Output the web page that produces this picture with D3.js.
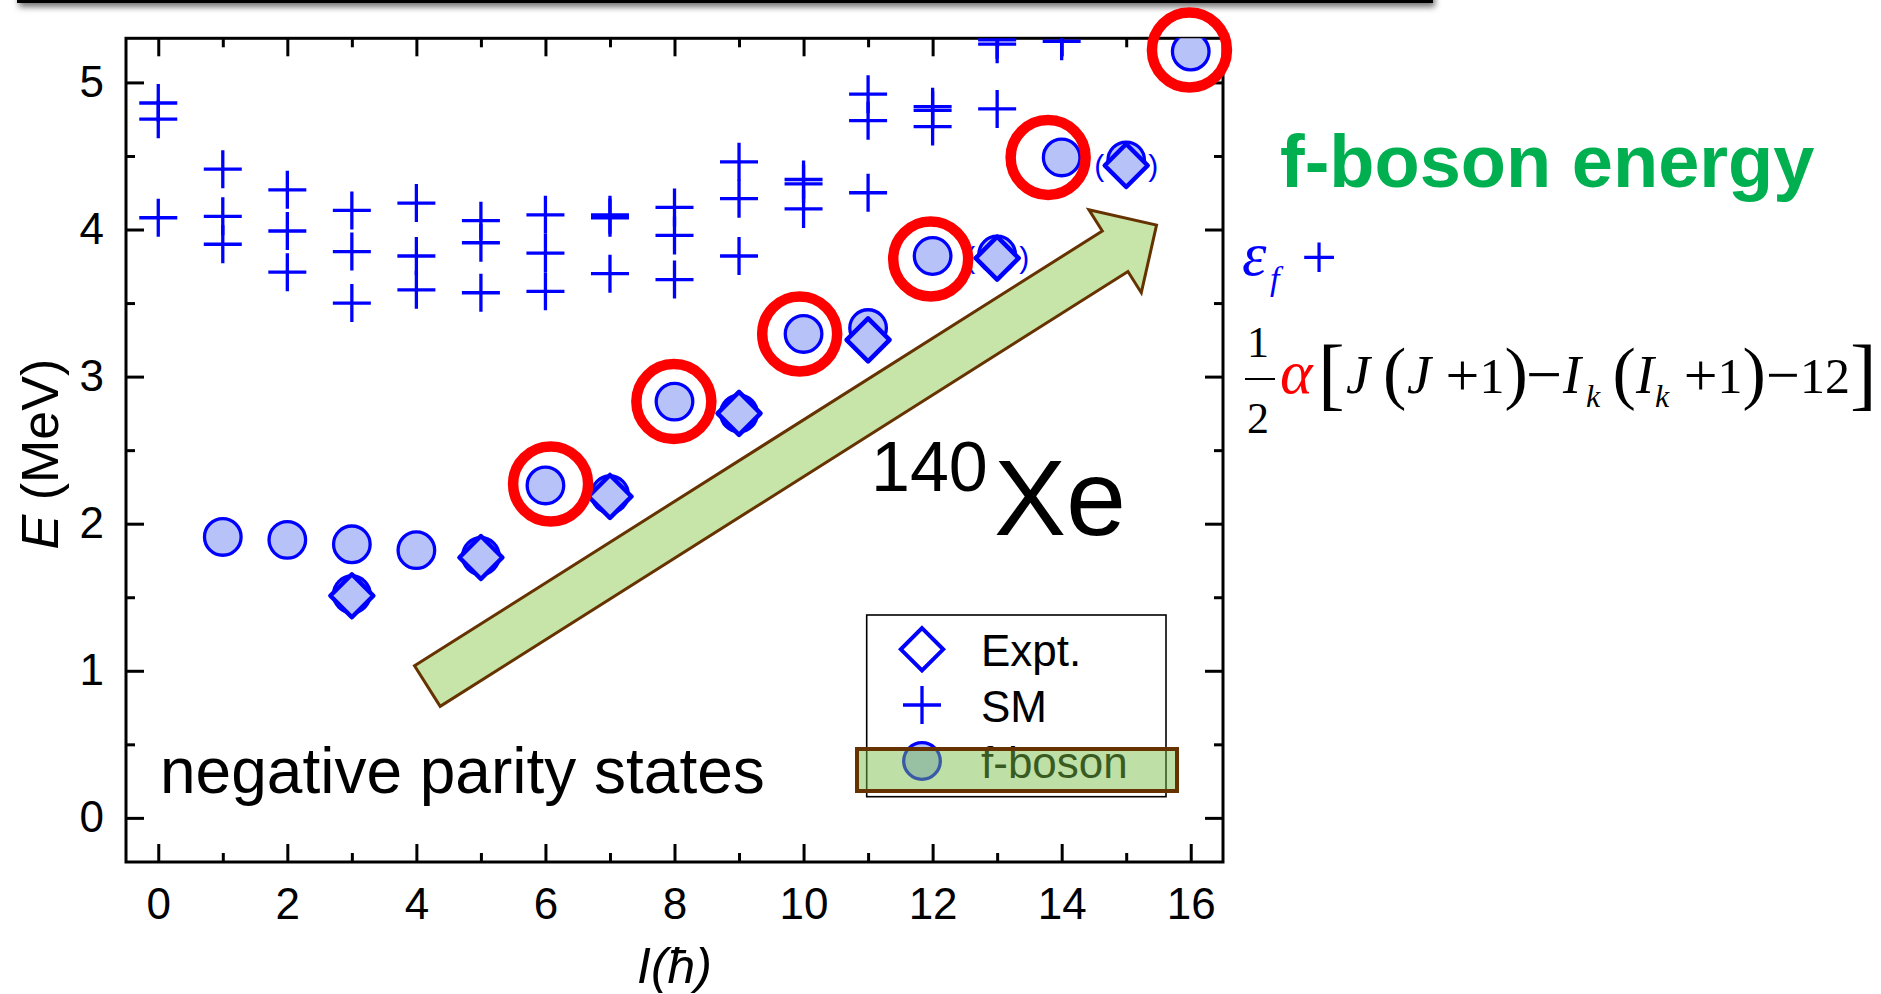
<!DOCTYPE html>
<html>
<head>
<meta charset="utf-8">
<script src="https://cdn.jsdelivr.net/npm/d3@7"></script>
<style>
  html, body { margin: 0; padding: 0; background: #fff; }
  svg { display: block; }
</style>
</head>
<body>
<svg id="chart" width="1881" height="994"></svg>
<script>
// ---- data: 140Xe negative parity states, E in MeV vs spin I ----
const smI = [0,0,0, 1,1,1, 2,2,2, 3,3,3, 4,4,4, 5,5,5, 6,6,6, 7,7,7, 8,8,8, 9,9,9, 10,10,10, 11,11,11, 12,12,12, 13,13,13, 14];
const smE = [4.86,4.75,4.08, 4.41,4.09,3.90, 4.27,3.99,3.71, 4.13,3.85,3.50, 4.18,3.82,3.59, 4.06,3.91,3.57, 4.10,3.84,3.58, 4.10,4.08,3.70, 4.15,3.96,3.66, 4.46,4.21,3.82, 4.34,4.31,4.14, 4.92,4.74,4.25, 4.835,4.81,4.70, 5.29,5.26,4.82, 5.28];

const fbI = [1, 2, 3, 4, 3, 5, 6, 7, 8, 9, 10, 11, 12, 13, 14, 15, 16];
const fbE = [1.91, 1.89, 1.86, 1.82, 1.52, 1.78, 2.26, 2.20, 2.83, 2.75, 3.29, 3.33, 3.82, 3.83, 4.49, 4.47, 5.21];

const exI = [3, 5, 7, 9, 11, 13, 15];
const exE = [1.51, 1.77, 2.185, 2.75, 3.25, 3.805, 4.435];
const exTentative = [false, false, false, false, false, true, true];

// highlighted states (red rings)
const ringI = [6.08, 7.99, 9.94, 11.97, 13.79, 15.98];
const ringE = [2.27, 2.83, 3.29, 3.80, 4.49, 5.22];

// trend arrow, from tail to tip (I, E)
const arrowFrom = [4.17, 0.896];
const arrowTo = [15.47, 4.03];

const xMajor = [0, 2, 4, 6, 8, 10, 12, 14, 16];
const xMinor = [1, 3, 5, 7, 9, 11, 13, 15];
const yMajor = [0, 1, 2, 3, 4, 5];
const yMinor = [0.5, 1.5, 2.5, 3.5, 4.5];

const legendItems = ["Expt.", "SM", "f-boson"];

// ---- layout ----
const svg = d3.select("#chart");
const L = 126, R = 1223, T = 38.3, B = 862;
const x = d3.scaleLinear().domain([-0.5, 16.5]).range([L, R]);
const y = d3.scaleLinear().domain([-0.3, 5.3]).range([B, T]);

const BLUE = "#0000ff", LIGHT = "#b7c2f8", RED = "#ff0000";
const SANS = "'Liberation Sans', Arial, sans-serif";
const SERIF = "'Liberation Serif', 'Times New Roman', serif";

// ---- slide title bar edge with shadow ----
const defs = svg.append("defs");
const sh = defs.append("filter").attr("id", "shadow").attr("x", "-5%").attr("y", "-100%").attr("width", "110%").attr("height", "400%");
sh.append("feDropShadow").attr("dx", 2).attr("dy", 4).attr("stdDeviation", 3.2).attr("flood-color", "#000").attr("flood-opacity", 0.55);
svg.append("rect").attr("x", 17).attr("y", -20).attr("width", 1416).attr("height", 23)
  .attr("fill", "#000").attr("filter", "url(#shadow)");

defs.append("clipPath").attr("id", "plotclip")
  .append("rect").attr("x", L).attr("y", T).attr("width", R - L).attr("height", B - T);

// ---- axes (ticks inward, mirrored on top/right) ----
function styleAxis(g) {
  g.select(".domain").remove();
  g.selectAll(".tick line").attr("stroke", "#000").attr("stroke-width", 3);
  g.selectAll(".tick text").attr("font-family", SANS).attr("font-size", 44).attr("fill", "#000");
}
const MAJ = 18, MIN = 9;
svg.append("g").attr("transform", `translate(0,${B})`)
  .call(d3.axisBottom(x).tickValues(xMajor).tickSizeInner(-MAJ).tickSizeOuter(0).tickPadding(26).tickFormat(d3.format("d")))
  .call(styleAxis);
svg.append("g").attr("transform", `translate(0,${B})`)
  .call(d3.axisBottom(x).tickValues(xMinor).tickSizeInner(-MIN).tickSizeOuter(0).tickFormat(""))
  .call(styleAxis);
svg.append("g").attr("transform", `translate(0,${T})`)
  .call(d3.axisTop(x).tickValues(xMajor).tickSizeInner(-MAJ).tickSizeOuter(0).tickFormat(""))
  .call(styleAxis);
svg.append("g").attr("transform", `translate(0,${T})`)
  .call(d3.axisTop(x).tickValues(xMinor).tickSizeInner(-MIN).tickSizeOuter(0).tickFormat(""))
  .call(styleAxis);
svg.append("g").attr("transform", `translate(${L},0)`)
  .call(d3.axisLeft(y).tickValues(yMajor).tickSizeInner(-MAJ).tickSizeOuter(0).tickPadding(22).tickFormat(d3.format("d")))
  .call(styleAxis);
svg.append("g").attr("transform", `translate(${L},0)`)
  .call(d3.axisLeft(y).tickValues(yMinor).tickSizeInner(-MIN).tickSizeOuter(0).tickFormat(""))
  .call(styleAxis);
svg.append("g").attr("transform", `translate(${R},0)`)
  .call(d3.axisRight(y).tickValues(yMajor).tickSizeInner(-MAJ).tickSizeOuter(0).tickFormat(""))
  .call(styleAxis);
svg.append("g").attr("transform", `translate(${R},0)`)
  .call(d3.axisRight(y).tickValues(yMinor).tickSizeInner(-MIN).tickSizeOuter(0).tickFormat(""))
  .call(styleAxis);

svg.append("rect").attr("x", L).attr("y", T).attr("width", R - L).attr("height", B - T)
  .attr("fill", "none").attr("stroke", "#000").attr("stroke-width", 3);

// axis titles
const yt = svg.append("text").attr("transform", `translate(58,${(T + B) / 2 + 4}) rotate(-90)`)
  .attr("text-anchor", "middle").attr("font-family", SANS).attr("font-size", 52).attr("fill", "#000");
yt.append("tspan").attr("font-style", "italic").text("E");
yt.append("tspan").text(" (MeV)");

svg.append("text").attr("x", (L + R) / 2).attr("y", 983)
  .attr("text-anchor", "middle").attr("font-family", SANS).attr("font-size", 50)
  .attr("font-style", "italic").attr("fill", "#000").text("I(ħ)");

// ---- trend arrow ----
(function () {
  const p0 = [x(arrowFrom[0]), y(arrowFrom[1])], p1 = [x(arrowTo[0]), y(arrowTo[1])];
  const dx = p1[0] - p0[0], dy = p1[1] - p0[1], len = Math.hypot(dx, dy);
  const u = [dx / len, dy / len], n = [-u[1], u[0]];
  const sw = 24, hw = 49, hl = 49;
  const b = [p1[0] - u[0] * hl, p1[1] - u[1] * hl];
  const pt = (p, k) => [p[0] + n[0] * k, p[1] + n[1] * k];
  const poly = [pt(p0, -sw), pt(b, -sw), pt(b, -hw), p1, pt(b, hw), pt(b, sw), pt(p0, sw)];
  svg.append("polygon").attr("points", poly.map(p => p.join(",")).join(" "))
    .attr("fill", "#c7e5a8").attr("stroke", "#663300").attr("stroke-width", 3).attr("stroke-linejoin", "miter");
})();

// ---- data markers ----
const plot = svg.append("g").attr("clip-path", "url(#plotclip)");
const cross = "M-19,0H19M0,-19V19";
const diamond = r => `M0,${-r}L${r},0L0,${r}L${-r},0Z`;

plot.selectAll("path.sm").data(smI.map((d, i) => [d, smE[i]])).join("path")
  .attr("class", "sm").attr("d", cross)
  .attr("transform", d => `translate(${x(d[0])},${y(d[1])})`)
  .attr("stroke", BLUE).attr("stroke-width", 3.3).attr("fill", "none");

plot.selectAll("circle.fb").data(fbI.map((d, i) => [d, fbE[i]])).join("circle")
  .attr("class", "fb").attr("cx", d => x(d[0])).attr("cy", d => y(d[1])).attr("r", 18.3)
  .attr("fill", LIGHT).attr("stroke", BLUE).attr("stroke-width", 3.3);

plot.selectAll("path.ex").data(exI.map((d, i) => [d, exE[i]])).join("path")
  .attr("class", "ex").attr("d", diamond(21.5))
  .attr("transform", d => `translate(${x(d[0])},${y(d[1])})`)
  .attr("fill", LIGHT).attr("stroke", BLUE).attr("stroke-width", 4.5).attr("stroke-linejoin", "round");

// tentative levels in parentheses
exI.forEach((d, i) => {
  if (!exTentative[i]) return;
  [["(", -27], [")", 27]].forEach(([ch, off]) => {
    plot.append("text").attr("x", x(d) + off).attr("y", y(exE[i]) + 10)
      .attr("text-anchor", "middle").attr("font-family", SANS).attr("font-size", 30)
      .attr("fill", BLUE).text(ch);
  });
});

// red rings
svg.selectAll("circle.ring").data(ringI.map((d, i) => [d, ringE[i]])).join("circle")
  .attr("class", "ring").attr("cx", d => x(d[0])).attr("cy", d => y(d[1])).attr("r", 37.5)
  .attr("fill", "none").attr("stroke", RED).attr("stroke-width", 10.5);

// ---- in-plot labels ----
svg.append("text").attr("x", 160).attr("y", 793).attr("font-family", SANS).attr("font-size", 64)
  .attr("fill", "#000").text("negative parity states");

svg.append("text").attr("x", 871).attr("y", 491).attr("font-family", SANS).attr("font-size", 70)
  .attr("fill", "#000").text("140");
svg.append("text").attr("x", 994).attr("y", 535).attr("font-family", SANS).attr("font-size", 108)
  .attr("fill", "#000").text("Xe");

// ---- legend ----
const lg = svg.append("g");
lg.append("rect").attr("x", 866.7).attr("y", 615).attr("width", 299.3).attr("height", 181.7)
  .attr("fill", "#fff").attr("stroke", "#000").attr("stroke-width", 1.6);
const rowY = [649.3, 705, 761];
lg.append("path").attr("d", diamond(21.2)).attr("transform", `translate(922,${rowY[0]})`)
  .attr("fill", "#fff").attr("stroke", BLUE).attr("stroke-width", 4);
lg.append("path").attr("d", cross).attr("transform", `translate(922,${rowY[1]})`)
  .attr("stroke", BLUE).attr("stroke-width", 3.3).attr("fill", "none");
lg.append("circle").attr("cx", 922).attr("cy", rowY[2]).attr("r", 18.3)
  .attr("fill", LIGHT).attr("stroke", BLUE).attr("stroke-width", 3.3);
legendItems.forEach((t, i) => {
  lg.append("text").attr("x", 981).attr("y", rowY[i] + 16.5).attr("font-family", SANS)
    .attr("font-size", 44).attr("fill", "#000").text(t);
});
// green highlight over the f-boson entry
svg.append("rect").attr("x", 857).attr("y", 749).attr("width", 320).attr("height", 42)
  .attr("fill", "rgb(120,190,70)").attr("fill-opacity", 0.48)
  .attr("stroke", "#663300").attr("stroke-width", 4);

// ---- f-boson energy formula ----
svg.append("text").attr("x", 1280).attr("y", 187).attr("font-family", SANS).attr("font-size", 74)
  .attr("font-weight", "bold").attr("fill", "#00b050").text("f-boson energy");

// each formula line is one text element built from positioned pieces
function formula(pieces) {
  const t = svg.append("text").attr("font-family", SERIF);
  pieces.forEach(p => {
    const s = t.append("tspan").attr("x", p.x).attr("y", p.y).attr("font-size", p.s)
      .attr("fill", p.c || "#000").text(p.t);
    if (p.i) s.attr("font-style", "italic");
  });
  return t;
}
// operators are set a little larger so they match the surrounding glyph widths
const OPY = s => 380 + 0.25 * s;
formula([
  { t: "ε", x: 1242, y: 275, s: 62, i: true, c: BLUE },
  { t: "f", x: 1270, y: 290, s: 34, i: true, c: BLUE },
  { t: "+", x: 1301, y: 263 + 0.25 * 64, s: 64, c: BLUE }
]);
formula([
  { t: "1", x: 1247, y: 357, s: 44 },
  { t: "2", x: 1247, y: 433, s: 44 },
  { t: "α", x: 1280, y: 393, s: 62, i: true, c: RED },
  { t: "[", x: 1318, y: 400, s: 80 },
  { t: "J", x: 1346, y: 393, s: 54, i: true },
  { t: "(", x: 1383, y: 396, s: 70 },
  { t: "J", x: 1407, y: 393, s: 54, i: true },
  { t: "+", x: 1445.6, y: OPY(60), s: 60 },
  { t: "1", x: 1479.5, y: 393, s: 50 },
  { t: ")", x: 1504.5, y: 396, s: 70 },
  { t: "−", x: 1526, y: OPY(64), s: 64 },
  { t: "I", x: 1563, y: 393, s: 54, i: true },
  { t: "k", x: 1586, y: 407, s: 32, i: true },
  { t: "(", x: 1612.5, y: 396, s: 70 },
  { t: "I", x: 1636, y: 393, s: 54, i: true },
  { t: "k", x: 1655, y: 407, s: 32, i: true },
  { t: "+", x: 1683.7, y: OPY(60), s: 60 },
  { t: "1", x: 1717.5, y: 393, s: 50 },
  { t: ")", x: 1742.5, y: 396, s: 70 },
  { t: "−", x: 1766, y: OPY(60), s: 60 },
  { t: "12", x: 1800, y: 393, s: 50 },
  { t: "]", x: 1850, y: 400, s: 80 }
]);
svg.append("line").attr("x1", 1245).attr("x2", 1275).attr("y1", 379).attr("y2", 379)
  .attr("stroke", "#000").attr("stroke-width", 2);
</script>
</body>
</html>
